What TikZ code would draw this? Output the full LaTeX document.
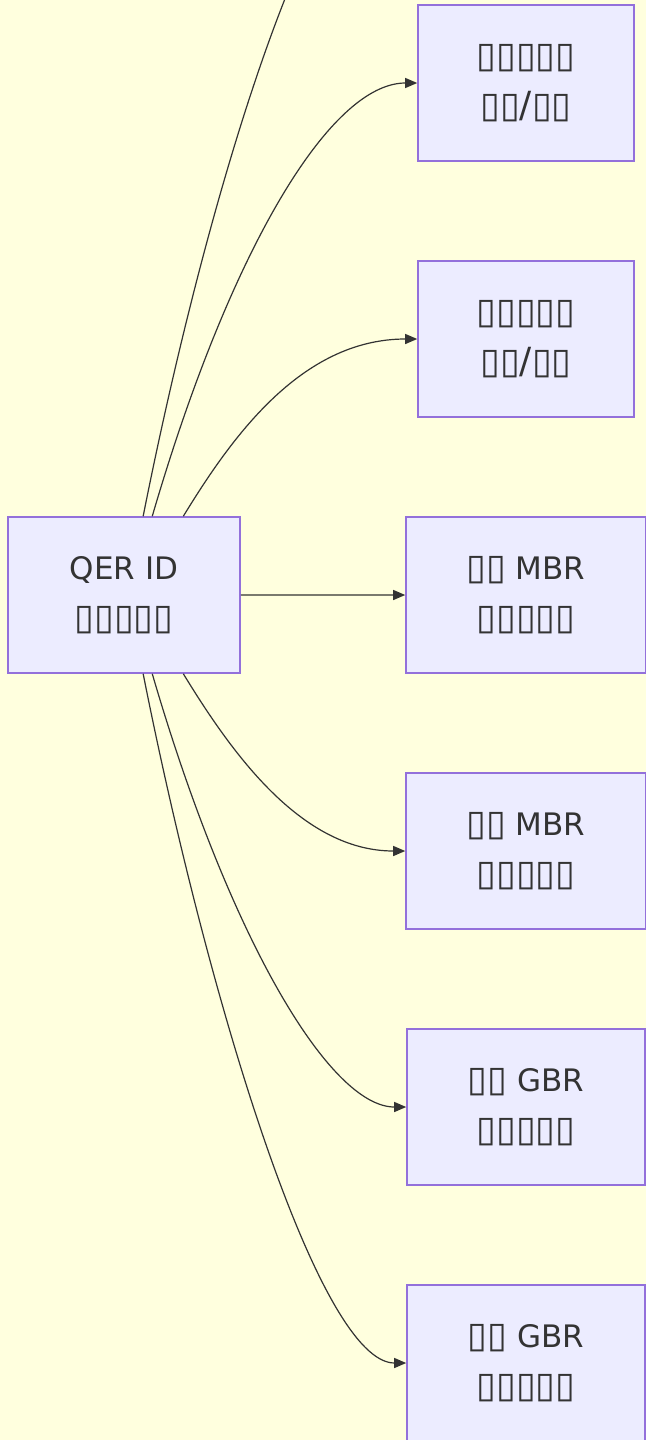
\documentclass[tikz,border=0pt]{standalone}
\usepackage{fontspec}
\setmainfont{DejaVu Sans}
\usetikzlibrary{arrows.meta, positioning, calc}

\definecolor{bgyellow}{HTML}{FFFFDE}
\definecolor{boxfill}{HTML}{ECECFF}
\definecolor{boxline}{HTML}{9370DB}
\definecolor{inkgray}{HTML}{333333}

\newcommand{\tofu}[1]{{\fontsize{18}{25}\selectfont #1}}

\begin{document}
\begin{tikzpicture}[x=0.5pt, y=-0.5pt,
    box/.style={rectangle, draw=boxline, fill=boxfill, line width=0.8pt, minimum width=108pt, minimum height=78pt, font={\fontsize{15.5}{25}\selectfont}, text=inkgray, align=center, inner sep=0pt},
    edge/.style={-{Triangle[length=6pt, width=5pt]}, inkgray, line width=0.6pt},
]

\useasboundingbox (0,0) rectangle (646,1440);
\clip (0,0) rectangle (646,1440);
\fill[bgyellow] (0,0) rectangle (646,1440);

% === SOURCE NODE ===
\node[box, minimum width=116pt] (qer) at (124,595) {QER ID\\\tofu{▯▯▯▯▯}};

% === TARGET NODES (right column) ===
\coordinate (o0) at (418,-173);
\node[box] (o1) at (526,83) {\tofu{▯▯▯▯▯}\\\tofu{▯▯/▯▯}};
\node[box, below=49.2pt of o1] (o2) {\tofu{▯▯▯▯▯}\\\tofu{▯▯/▯▯}};
\node[box, minimum width=120pt, below=49.2pt of o2] (o3) {\tofu{▯▯} MBR\\\tofu{▯▯▯▯▯}};
\node[box, minimum width=120pt, below=49.2pt of o3] (o4) {\tofu{▯▯} MBR\\\tofu{▯▯▯▯▯}};
\node[box, minimum width=119pt, below=49.2pt of o4] (o5) {\tofu{▯▯} GBR\\\tofu{▯▯▯▯▯}};
\node[box, minimum width=119pt, below=49.2pt of o5] (o6) {\tofu{▯▯} GBR\\\tofu{▯▯▯▯▯}};

% === EDGES (upwards) ===
\draw[edge] ($(qer.north west)!0.582!(qer.north east)$) .. controls (210,180) and (320,-173) .. (o0);
\draw[edge] ($(qer.north west)!0.621!(qer.north east)$) .. controls (230,250) and (330,83) .. (o1.west);
\draw[edge] ($(qer.north west)!0.754!(qer.north east)$) .. controls (230,440) and (300,339) .. (o2.west);

% === EDGES (straight / downwards) ===
\draw[edge] (qer.east) -- (o3.west);
\draw[edge] ($(qer.south west)!0.754!(qer.south east)$) .. controls (230,750) and (300,851) .. (o4.west);
\draw[edge] ($(qer.south west)!0.621!(qer.south east)$) .. controls (230,940) and (330,1107) .. (o5.west);
\draw[edge] ($(qer.south west)!0.582!(qer.south east)$) .. controls (210,1010) and (320,1363) .. (o6.west);

\end{tikzpicture}
\end{document}
